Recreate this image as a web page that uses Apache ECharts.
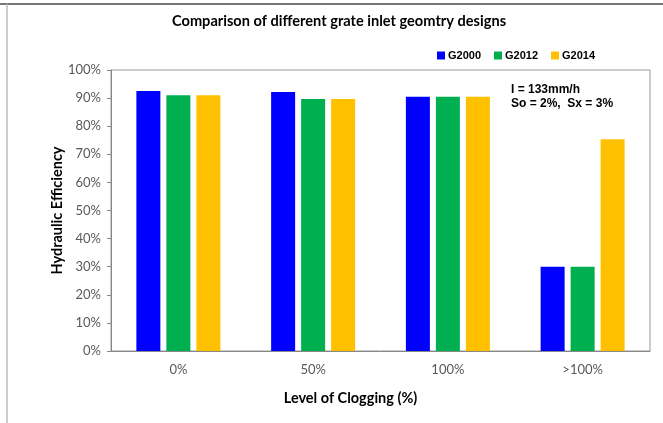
<!DOCTYPE html>
<html>
<head>
<meta charset="utf-8">
<script src="https://cdn.jsdelivr.net/npm/echarts@6/dist/echarts.min.js"></script>
<style>
  html, body { margin: 0; padding: 0; background: #fff; }
  #main { width: 663px; height: 423px; }
</style>
</head>
<body>
<div id="main"></div>
<script>
// 数据
var categories = ['0%', '50%', '100%', '>100%'];
var g2000 = [0.925, 0.922, 0.905, 0.30];
var g2012 = [0.91, 0.897, 0.905, 0.30];
var g2014 = [0.91, 0.897, 0.905, 0.754];

function barSeries (name, data, color) {
    return {
        name: name,
        type: 'bar',
        data: data,
        barWidth: 24,
        barGap: '25%',
        itemStyle: { color: color }
    };
}

var myChart = echarts.init(document.getElementById('main'));

var option = {
    animation: false,
    title: {
        text: 'Comparison of different grate inlet geomtry designs',
        left: 172,
        top: 14,
        padding: 0,
        textStyle: { fontFamily: 'Lato', fontWeight: 'bold', fontSize: 14.6, color: '#000' }
    },
    legend: {
        left: 432,
        top: 45,
        itemWidth: 8,
        itemHeight: 8,
        itemGap: 13,
        icon: 'rect',
        textStyle: { fontFamily: 'Liberation Sans', fontWeight: 'bold', fontSize: 11, color: '#000', padding: [0, 0, 0, -2] },
        data: ['G2000', 'G2012', 'G2014']
    },
    grid: {
        left: 111,
        right: 13,
        top: 70,
        bottom: 72,
        show: true,
        borderColor: '#999',
        borderWidth: 1
    },
    xAxis: {
        type: 'category',
        data: categories,
        axisLine: { lineStyle: { color: '#888' } },
        axisTick: { show: false },
        axisLabel: { margin: 12, fontFamily: 'Lato', fontSize: 13, color: '#595959' },
        name: 'Level of Clogging (%)',
        nameLocation: 'middle',
        nameGap: 40,
        nameTextStyle: { fontFamily: 'Lato', fontWeight: 'bold', fontSize: 14.5, color: '#000', padding: [0, 60, 0, 0] }
    },
    yAxis: {
        type: 'value',
        min: 0,
        max: 1,
        interval: 0.1,
        axisLine: { show: true, lineStyle: { color: '#888' } },
        axisTick: { show: true, length: 4, lineStyle: { color: '#888' } },
        splitLine: { show: false },
        axisLabel: {
            margin: 10,
            fontFamily: 'Lato',
            fontSize: 13,
            color: '#595959',
            formatter: function (v) { return Math.round(v * 100) + '%'; }
        },
        name: 'Hydraulic Efficiency',
        nameLocation: 'middle',
        nameGap: 46,
        nameMoveOverlap: false,
        nameTextStyle: { fontFamily: 'Lato', fontWeight: 'bold', fontSize: 14.5, color: '#000' }
    },
    graphic: [
        { type: 'line', shape: { x1: 0, y1: 4, x2: 663, y2: 4 }, style: { stroke: '#777', lineWidth: 2 } },
        { type: 'line', shape: { x1: 7, y1: 4, x2: 7, y2: 423 }, style: { stroke: '#bbb', lineWidth: 1.5 } },
        {
            type: 'text', left: 511, top: 83,
            style: {
                text: 'I = 133mm/h\nSo = 2%,  Sx = 3%',
                font: 'bold 12px "Liberation Sans"',
                lineHeight: 14,
                fill: '#000'
            }
        }
    ],
    series: [
        barSeries('G2000', g2000, '#0000FF'),
        barSeries('G2012', g2012, '#00B050'),
        barSeries('G2014', g2014, '#FFC000')
    ]
};

myChart.setOption(option);
</script>
</body>
</html>
